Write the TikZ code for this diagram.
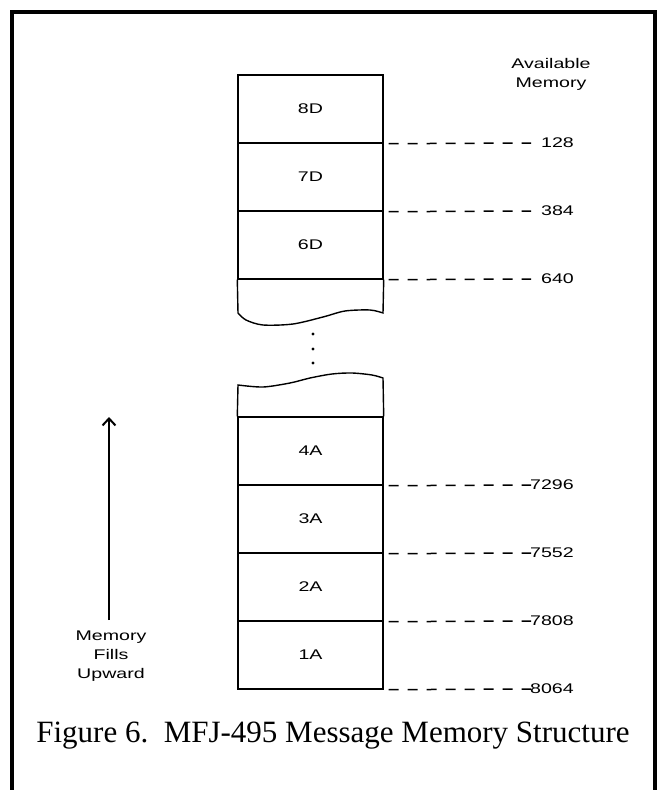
\documentclass[tikz,border=0pt]{standalone}
\usepackage{fontspec}
\setmainfont{Liberation Serif}
\newfontfamily\arialish[FakeStretch=1.4]{Liberation Sans}
\usetikzlibrary{arrows.meta}

\begin{document}
\begin{tikzpicture}[x=1pt,y=-1pt,
    cell/.style={draw,line width=1.4pt,minimum width=145pt,minimum height=68pt,
      inner sep=0pt,font=\arialish\fontsize{14}{19}\selectfont},
    memlbl/.style={inner sep=0pt,align=center,font=\arialish\fontsize{14}{19}\selectfont},
    memdash/.style={line width=1.5pt,dash pattern=on 10pt off 9pt}]
  \useasboundingbox (0,0) rectangle (657,790);
  % frame, open at the bottom
  \draw[line width=4pt] (12,790) -- (12,11.5) -- (655,11.5) -- (655,790);

  % upper stack
  \node[cell] (c8D) at (310.5,109) {8D};
  \node[cell] (c7D) at (310.5,177) {7D};
  \node[cell] (c6D) at (310.5,245) {6D};
  \draw[line width=1.4pt] (c6D.south west) -- (238,313)
    -- plot[smooth] coordinates {(238,313) (246,320) (263,325) (293,324) (323,317) (345,311) (370,310) (383,313)}
    -- (c6D.south east);

  % gap
  \foreach \y in {334,349,363}
    \fill (313,\y) circle (1.7pt);

  % lower stack
  \node[cell] (c4A) at (310.5,451) {4A};
  \node[cell] (c3A) at (310.5,519) {3A};
  \node[cell] (c2A) at (310.5,587) {2A};
  \node[cell] (c1A) at (310.5,655) {1A};
  \draw[line width=1.4pt] (c4A.north west) -- (238,385)
    -- plot[smooth] coordinates {(238,385) (263,387) (290,383) (310,378) (332,374) (352,373) (372,375) (383,378)}
    -- (c4A.north east);

  % available memory column
  \node[memlbl] (avail) at (551,74) {Available\\Memory};
  \node[memlbl,anchor=east] (m128) at (574,143) {128};
  \node[memlbl,anchor=east] (m384) at (574,211) {384};
  \node[memlbl,anchor=east] (m640) at (574,279) {640};
  \node[memlbl,anchor=east] (m7296) at (574,485) {7296};
  \node[memlbl,anchor=east] (m7552) at (574,553) {7552};
  \node[memlbl,anchor=east] (m7808) at (574,621) {7808};
  \node[memlbl,anchor=east] (m8064) at (574,689) {8064};
  \foreach \c/\m/\y in {c8D/m128/143,c7D/m384/211,c6D/m640/279,
                        c4A/m7296/485,c3A/m7552/553,c2A/m7808/621,c1A/m8064/689}{
    \coordinate (d\m) at (531,\y);
    \draw[memdash] ([xshift=5pt]\c.south east) -- (d\m);
  }

  % fill direction
  \coordinate (upbot) at (109,620);
  \coordinate (uptop) at (109,417);
  \draw[line width=2pt,-{Straight Barb[length=7pt,width=13pt]}] (upbot) -- (uptop);
  \node[memlbl] (fills) at (111,656) {Memory\\Fills\\Upward};

  \node[font=\fontsize{31}{36}\selectfont,inner sep=0pt] (caption) at (333,736)
    {\frenchspacing Figure 6.\ \ MFJ-495 Message Memory Structure};
\end{tikzpicture}
\end{document}
